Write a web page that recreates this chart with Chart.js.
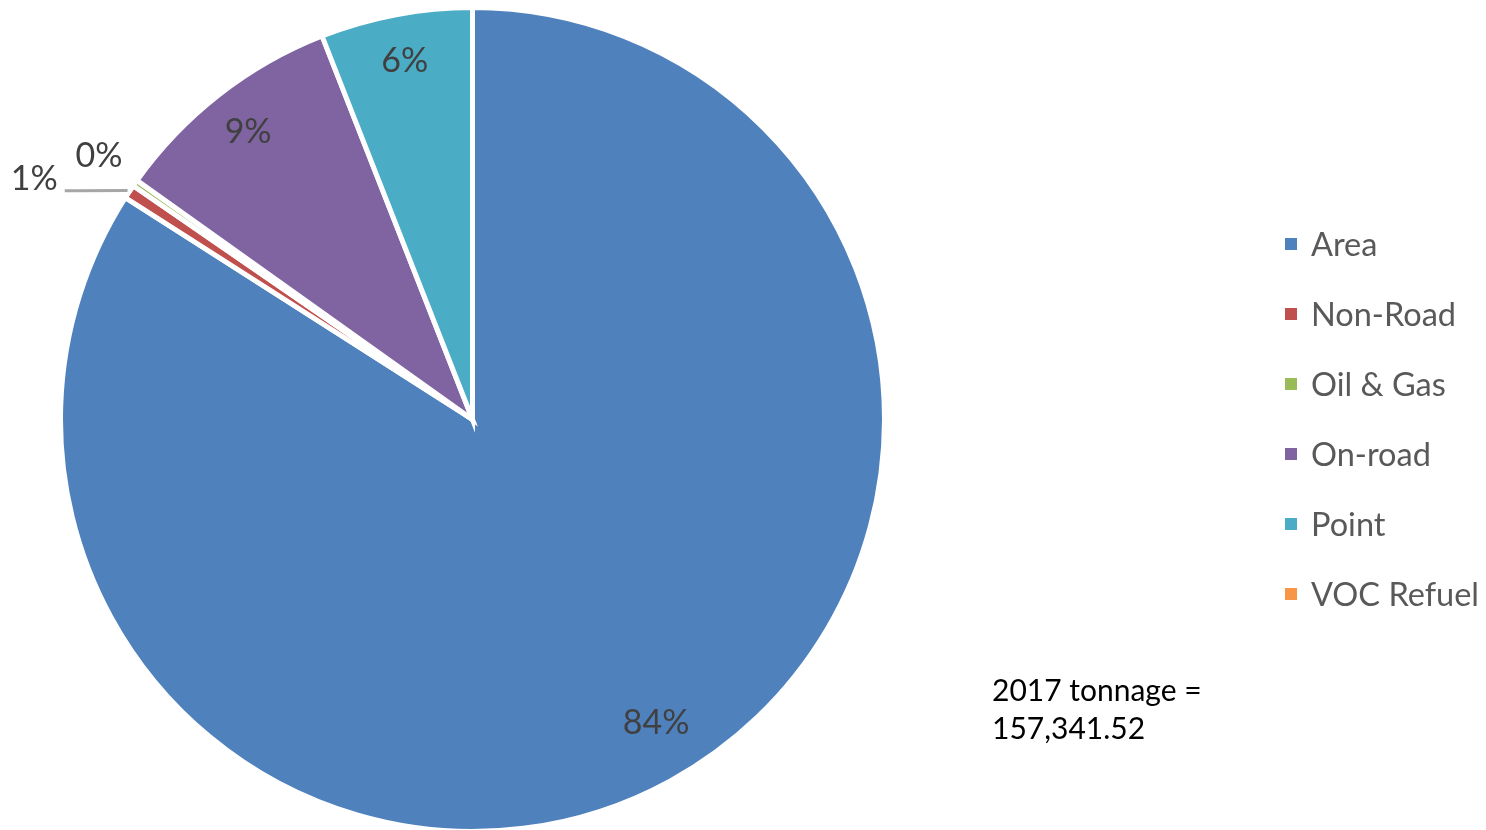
<!DOCTYPE html>
<html>
<head>
<meta charset="utf-8">
<script src="https://cdn.jsdelivr.net/npm/chart.js@4.4.1/dist/chart.umd.min.js"></script>
<style>
  html, body { margin: 0; padding: 0; background: #fff; }
  #wrap { position: relative; width: 1486px; height: 830px; overflow: hidden; }
  #wrap canvas { position: absolute; left: 0; top: 0; }
  .leyenda { position: absolute; left: 1285px; top: 0; font-family: Lato, sans-serif; font-size: 32.5px; color: #595959; }
  .leyenda .item { position: absolute; left: 0; height: 40px; line-height: 40px; white-space: nowrap; }
  .leyenda .cuadro { position: absolute; left: 0; top: 14px; width: 12px; height: 12px; }
  .leyenda .txt { position: absolute; left: 26px; top: 0; }
  .nota { position: absolute; left: 992px; top: 670px; font-family: Lato, sans-serif; font-size: 30px; line-height: 38px; color: #000; }
</style>
</head>
<body>
<div id="wrap">
  <canvas id="chart-pie" width="1486" height="834"></canvas>
  <div class="leyenda" id="leyenda"></div>
  <div class="nota">2017 tonnage =<br>157,341.52</div>
</div>
<script>
// ── Datos (toneladas 2017) ────────────────────────────────────────────
const CATEGORIAS = ["Area", "Non-Road", "Oil & Gas", "On-road", "Point", "VOC Refuel"];
const TONELADAS  = [132245.5, 865.4, 393.4, 14475.4, 9361.8, 0];
const COLORES    = ["#4F81BD", "#C0504D", "#9BBB59", "#8064A2", "#4BACC6", "#F79646"];

const C_TEXTO = "#404040";
const FUENTE  = "Lato, sans-serif";

// ── Etiquetas de porcentaje (estilo Excel "best fit") ─────────────────
const etiquetasPct = {
  id: "etiquetasPct",
  afterDatasetsDraw(chart) {
    const ctx = chart.ctx;
    const arcs = chart.getDatasetMeta(0).data;
    const total = TONELADAS.reduce((s, v) => s + v, 0);
    ctx.save();
    ctx.font = `34px ${FUENTE}`;
    ctx.fillStyle = C_TEXTO;
    ctx.textAlign = "center";
    ctx.textBaseline = "middle";

    const colocadas = [];
    // de atrás para adelante: las chicas se empujan hacia afuera
    for (let i = arcs.length - 1; i >= 0; i--) {
      const v = TONELADAS[i];
      if (!v) continue;
      const a = arcs[i];
      const pct = v / total * 100;
      const txt = Math.round(pct) + "%";
      const mid = (a.startAngle + a.endAngle) / 2;
      const R = a.outerRadius;
      if (pct >= 3) {
        // la etiqueta grande Excel la corre un poco hacia el inicio del sector
        const ang = pct > 50 ? mid - 2.5 * Math.PI / 180 : mid;
        const k = pct > 50 ? 0.86 : 0.885;
        ctx.fillText(txt, a.x + Math.cos(ang) * R * k, a.y + Math.sin(ang) * R * k);
        continue;
      }
      let x = a.x + Math.cos(mid) * (R + 44);
      let y = a.y + Math.sin(mid) * (R + 44);
      const choca = colocadas.some(p => Math.abs(p.x - x) < 50 && Math.abs(p.y - y) < 30);
      if (choca) {
        const ang = mid - 5 * Math.PI / 180;
        x = a.x + Math.cos(ang) * (R + 87);
        y = a.y + Math.sin(ang) * (R + 87);
        const w = ctx.measureText(txt).width;
        ctx.strokeStyle = "#A6A6A6";
        ctx.lineWidth = 3;
        ctx.beginPath();
        ctx.moveTo(a.x + Math.cos(mid) * (R + 2), a.y + Math.sin(mid) * (R + 2));
        ctx.lineTo(x + w / 2 + 21, y + 10);
        ctx.lineTo(x + w / 2 + 7, y + 10);
        ctx.stroke();
      }
      ctx.fillText(txt, x, y - 2);
      colocadas.push({ x, y });
    }
    ctx.restore();
  },
};

// ── Leyenda HTML ──────────────────────────────────────────────────────
document.getElementById("leyenda").innerHTML = CATEGORIAS.map((c, i) => `
  <div class="item" style="top:${224 + i * 70}px">
    <span class="cuadro" style="background:${COLORES[i]}"></span><span class="txt">${c}</span>
  </div>`).join("");

// ── Gráfico ───────────────────────────────────────────────────────────
new Chart(document.getElementById("chart-pie"), {
  type: "pie",
  data: {
    labels: CATEGORIAS,
    datasets: [{ data: TONELADAS, backgroundColor: COLORES,
      borderColor: "#FFFFFF", borderWidth: 5, borderJoinStyle: "miter" }],
  },
  options: {
    responsive: false, animation: false,
    layout: { padding: { left: 58, right: 599, top: 5, bottom: 0 } },
    plugins: { legend: { display: false }, tooltip: { enabled: false } },
  },
  plugins: [etiquetasPct],
});
</script>
</body>
</html>
